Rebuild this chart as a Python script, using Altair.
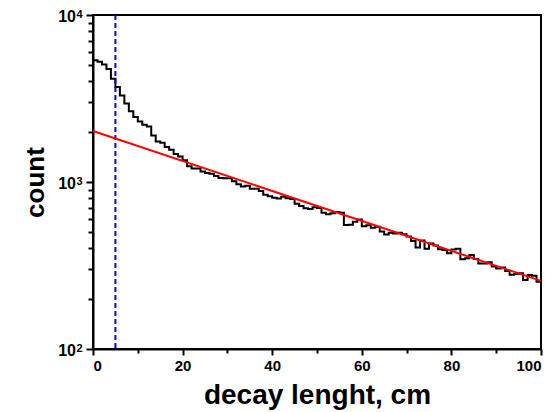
import altair as alt
import pandas as pd

# histogram: left edges of 1 cm bins and counts
bin_left = list(range(0, 100))
counts = [
    5350, 5250, 5050, 4750, 4150, 3700, 3300, 2950, 2650, 2450,
    2300, 2200, 2150, 1900, 1750, 1720, 1620, 1560, 1470, 1420,
    1350, 1244, 1206, 1206, 1157, 1133, 1121, 1087, 1055, 1054,
    1054, 1012, 971, 940, 950, 912, 912, 884, 839, 822,
    805, 797, 815, 798, 790, 742, 719, 697, 690, 705,
    698, 655, 642, 649, 662, 655, 553, 554, 579, 597,
    544, 550, 533, 539, 506, 485, 496, 491, 496, 486,
    471, 443, 406, 447, 399, 429, 416, 396, 391, 375,
    394, 398, 345, 349, 366, 346, 325, 325, 331, 312,
    303, 308, 293, 278, 281, 284, 259, 277, 275, 253,
]

# exponential fit: end points of the straight line on the log axis
fit_x = [0, 100]
fit_y = [2020, 256]

# vertical dashed marker
marker_x = [5]

# y axis decade labels (base + superscript exponent)
decades = [100, 1000, 10000]
decade_base = ["10", "10", "10"]
decade_exp = ["2", "3", "4"]

hist_df = pd.DataFrame({"x": bin_left + [100], "count": counts + [counts[-1]]})
fit_df = pd.DataFrame({"x": fit_x, "count": fit_y})
marker_df = pd.DataFrame({"x": marker_x})
dec_df = pd.DataFrame({"count": decades, "base": decade_base, "exp": decade_exp})

FONT = "Liberation Sans"

x_axis = alt.Axis(
    values=list(range(0, 101, 10)),
    labelExpr="datum.value % 20 == 0 ? datum.label : ''",
    tickSize={"condition": {"test": "datum.value % 20 == 0", "value": 6}, "value": 4},
    labelFontSize=15,
    labelFontWeight="bold",
    labelPadding=3,
    titleFontSize=28,
    titleFontWeight="bold",
    titlePadding=8,
)

y_vals = [100, 200, 300, 400, 500, 600, 700, 800, 900,
          1000, 2000, 3000, 4000, 5000, 6000, 7000, 8000, 9000, 10000]
major_test = "datum.value == 100 || datum.value == 1000 || datum.value == 10000"
y_axis = alt.Axis(
    values=y_vals,
    labels=False,
    tickSize={"condition": {"test": major_test, "value": 7}, "value": 5},
    titleFontSize=26,
    titleFontWeight="bold",
    titleX=-50,
    titleY=167,
    titleAngle=270,
    titleBaseline="alphabetic",
    titleAlign="center",
)

x_scale = alt.Scale(domain=[0, 100], nice=False, zero=False)
y_scale = alt.Scale(type="log", domain=[100, 10000], nice=False)

hist = alt.Chart(hist_df).mark_line(
    interpolate="step-after", color="black", strokeWidth=2
).encode(
    x=alt.X("x:Q", scale=x_scale, axis=x_axis, title="decay lenght, cm"),
    y=alt.Y("count:Q", scale=y_scale, axis=y_axis, title="count"),
)

fit = alt.Chart(fit_df).mark_line(color="#ff0000", strokeWidth=2).encode(
    x=alt.X("x:Q", scale=x_scale),
    y=alt.Y("count:Q", scale=y_scale),
)

marker = alt.Chart(marker_df).mark_rule(
    color="#0000ff", strokeWidth=2, strokeDash=[5, 3]
).encode(x=alt.X("x:Q", scale=x_scale))

dec_base = alt.Chart(dec_df).mark_text(
    font=FONT, fontSize=16, fontWeight="bold", align="right",
    baseline="alphabetic", dy=6.5, color="black",
).encode(
    x=alt.value(-17),
    y=alt.Y("count:Q", scale=y_scale),
    text="base:N",
)

dec_exp = alt.Chart(dec_df).mark_text(
    font=FONT, fontSize=11, fontWeight="bold", align="left",
    baseline="alphabetic", dy=3, color="black",
).encode(
    x=alt.value(-16.5),
    y=alt.Y("count:Q", scale=y_scale),
    text="exp:N",
)

chart = alt.layer(hist, marker, fit, dec_base, dec_exp).properties(
    width=448,
    height=334,
    padding={"left": 93, "top": 15, "right": 19, "bottom": 63},
    autosize=alt.AutoSizeParams(type="none"),
    background="white",
).configure_view(
    stroke="black", strokeWidth=2
).configure_axis(
    grid=False,
    domainColor="black",
    domainWidth=2,
    tickColor="black",
    tickWidth=2,
    labelColor="black",
    titleColor="black",
    labelFont=FONT,
    titleFont=FONT,
)

chart.save("out.html", embed_options={"renderer": "svg", "actions": False})
